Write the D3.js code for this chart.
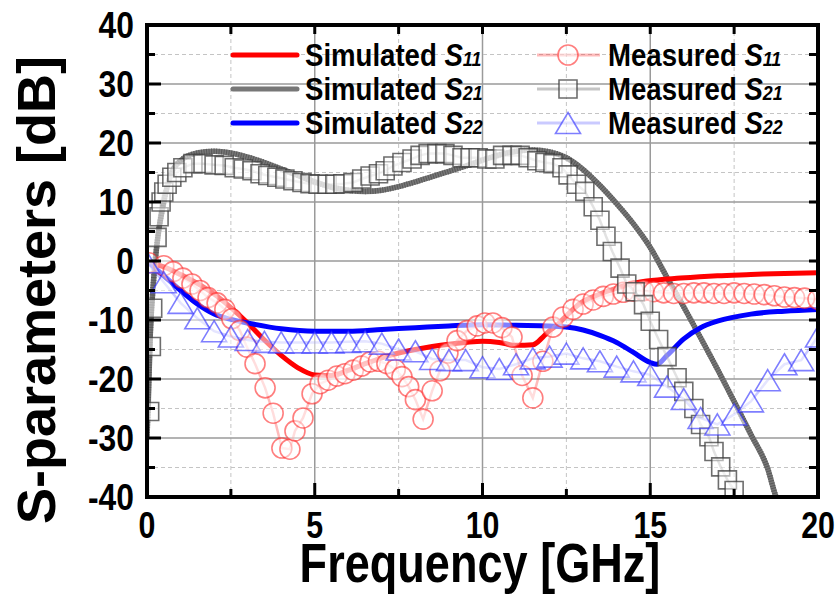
<!DOCTYPE html>
<html lang="en">
<head>
<meta charset="UTF-8" />
<script src="https://cdn.jsdelivr.net/npm/d3@7/dist/d3.min.js"></script>
<title>S-parameters</title>
<style>
  body { margin: 0; background: #fff; }
  text { font-family: "Liberation Sans", Arial, sans-serif; font-weight: bold; fill: #000; }
</style>
</head>
<body>
<script>
// ---- data ----
var simS11F = [0, 0.5, 1, 1.5, 2, 2.5, 3, 3.5, 4, 4.5, 5, 5.5, 6, 6.5, 7, 7.5, 8, 8.5, 9, 9.5, 10, 10.5, 11, 11.5, 11.8, 12, 12.2, 12.5, 12.9, 13.5, 14, 14.4, 14.9, 15.9, 17, 18, 19, 20];
var simS11 = [-0.3, -1, -2.3, -3.8, -5.6, -7.9, -10.5, -13.4, -16, -18.1, -19.3, -19.4, -18.5, -17.4, -16.4, -15.6, -15, -14.5, -14.1, -13.8, -13.6, -13.8, -14.3, -14.2, -12.9, -11.8, -11, -9.3, -7.2, -5.6, -4.6, -3.9, -3.4, -2.9, -2.5, -2.3, -2.1, -2];

var simS21F = [0, 0.1, 0.2, 0.3, 0.5, 0.7, 1, 1.5, 2, 2.5, 3, 3.5, 4, 4.5, 5, 5.5, 6, 6.5, 7, 7.5, 8, 8.5, 9, 9.5, 10, 10.5, 11, 11.5, 12, 12.5, 13, 13.5, 14, 14.5, 15, 15.5, 16, 16.5, 17, 17.5, 18, 18.5, 18.75, 19];
var simS21 = [-30, -12, -3, 3, 10, 14.5, 17, 18.3, 18.6, 18.3, 17.6, 16.7, 15.6, 14.5, 13.4, 12.5, 12, 11.8, 12, 12.6, 13.4, 14.3, 15.2, 16.1, 17.1, 18, 18.6, 18.8, 18.5, 17.5, 15.5, 12.8, 9.7, 6.3, 2.3, -2.8, -7.8, -13, -18.3, -23.8, -29.4, -35.2, -40, -43];

var simS22F = [0, 0.5, 1, 1.5, 2, 2.5, 3, 4, 5, 6, 7, 8, 9, 10, 11, 12, 12.5, 13, 13.5, 14, 14.5, 15, 15.2, 15.5, 16, 16.5, 17, 18, 19, 20];
var simS22 = [0, -2.5, -5, -7.3, -9, -9.9, -10.5, -11.5, -11.9, -11.9, -11.6, -11.3, -11, -10.8, -10.9, -11, -11.2, -11.7, -12.6, -13.8, -15.5, -17.2, -17.5, -16, -13.2, -11.3, -10.2, -9, -8.5, -8.2];

var measS11F = [0.05, 0.5, 0.78, 1.07, 1.34, 1.58, 1.82, 2.09, 2.32, 2.53, 2.77, 2.98, 3.22, 3.52, 3.76, 4.02, 4.26, 4.41, 4.65, 4.92, 5.16, 5.4, 5.66, 5.9, 6.15, 6.4, 6.65, 6.9, 7.15, 7.4, 7.6, 7.8, 8, 8.23, 8.5, 8.73, 8.97, 9.24, 9.54, 9.84, 10.07, 10.31, 10.58, 10.88, 11.18, 11.5, 11.8, 12.1, 12.4, 12.7, 13, 13.3, 13.6, 13.9, 14.2, 14.5, 14.8, 15.1, 15.4, 15.7, 16, 16.3, 16.6, 16.9, 17.2, 17.5, 17.8, 18.1, 18.4, 18.7, 19, 19.3, 19.6, 20];
var measS11 = [-0.3, -0.8, -1.8, -2.9, -3.9, -5, -6.2, -7.1, -8.2, -9.8, -11.8, -14.6, -17.4, -21.5, -25.8, -31.7, -31.9, -28.8, -26.6, -22.5, -20.8, -20.2, -19.5, -19.1, -18.5, -17.8, -17.1, -17, -17.4, -18.4, -19.6, -21.3, -23.5, -26.8, -22, -18.6, -15.6, -13.5, -11.8, -11, -10.5, -10.5, -11.3, -12.9, -19.4, -23.2, -17, -11.2, -9.5, -8.2, -7.3, -6.6, -6, -5.6, -5.3, -5.1, -5, -5.2, -5.4, -5.5, -5.5, -5.4, -5.4, -5.5, -5.5, -5.4, -5.5, -5.6, -5.7, -5.9, -6.1, -6.2, -6.3, -6.5];

var measS21F = [0.08, 0.13, 0.17, 0.3, 0.36, 0.42, 0.5, 0.6, 0.74, 0.89, 1.07, 1.37, 1.67, 2, 2.3, 2.6, 2.87, 3.13, 3.37, 3.6, 3.87, 4.11, 4.35, 4.62, 4.86, 5.1, 5.37, 5.6, 5.84, 6.14, 6.4, 6.65, 6.9, 7.1, 7.33, 7.6, 7.9, 8.14, 8.38, 8.64, 8.88, 9.12, 9.39, 9.63, 9.87, 10.13, 10.37, 10.6, 10.88, 11.12, 11.36, 11.62, 11.86, 12.1, 12.37, 12.55, 12.8, 13.05, 13.3, 13.5, 13.68, 13.87, 14.1, 14.3, 14.55, 14.8, 15, 15.25, 15.5, 15.8, 16, 16.3, 16.5, 16.75, 16.9, 17.1, 17.3, 17.5];
var measS21 = [-25.5, -14.5, -8, 4, 7.5, 10, 11.7, 13, 14.2, 15, 15.8, 16.5, 16.5, 16.3, 16.2, 15.8, 15.6, 15.3, 14.8, 14.5, 14.2, 13.9, 13.6, 13.3, 13.1, 13, 13, 13, 13.1, 13.3, 13.9, 14.4, 14.8, 15.3, 16.1, 16.7, 17.3, 17.9, 18.2, 18.2, 18.2, 17.9, 17.5, 17.5, 17.5, 17.3, 17.3, 17.9, 17.9, 17.9, 17.5, 17, 16.7, 16.5, 15.8, 14.6, 13, 11.8, 9.2, 6.9, 4.2, 1.6, -1.2, -3.9, -5.2, -7.4, -10.2, -13.3, -16.2, -19.8, -22.1, -25, -27.7, -29.8, -32.3, -34.9, -37.1, -38.9];

var measS22F = [0, 0.5, 1, 1.5, 2, 2.5, 3, 3.5, 4, 4.5, 5, 5.5, 6, 6.5, 7, 7.5, 8, 8.5, 9, 9.5, 10, 10.5, 11, 11.5, 12, 12.5, 13, 13.5, 14, 14.5, 15, 15.5, 16, 16.5, 17, 17.5, 18, 18.5, 19, 19.5, 20];
var measS22 = [-0.2, -3.6, -7.1, -9.7, -11.9, -12.8, -13.4, -13.7, -13.8, -13.8, -13.8, -13.8, -13.7, -13.6, -14, -15, -15.3, -16.6, -16.8, -16.8, -18, -18.3, -17.5, -16.5, -16.2, -15.7, -16.5, -17, -17.9, -18.7, -19.3, -21.3, -23.4, -26.6, -27.7, -26, -23.8, -20.2, -17.5, -16.8, -12.8];

var xTicks = [0, 5, 10, 15, 20];
var yTicks = [-40, -30, -20, -10, 0, 10, 20, 30, 40];
var legendNames = ["Simulated", "Simulated", "Simulated", "Measured", "Measured", "Measured"];
var legendSubs = ["11", "21", "22", "11", "21", "22"];

// ---- layout ----
var w = 838, h = 595;
var x0 = 147, x1 = 818, y0 = 497, y1 = 25;
var sx = 0.82; // glyphs in the picture are squeezed horizontally

var xScale = d3.scaleLinear().domain([0, 20]).range([x0, x1]);
var yScale = d3.scaleLinear().domain([-40, 40]).range([y0, y1]);

var svg = d3.select("body").append("svg").attr("width", w).attr("height", h);

svg.append("clipPath").attr("id", "plot")
  .append("rect").attr("x", x0).attr("y", y1).attr("width", x1 - x0).attr("height", y0 - y1);

// grid
var grid = svg.append("g");
d3.range(2.5, 20, 2.5).forEach(function (v) {
  var major = v % 5 === 0;
  grid.append("line")
    .attr("x1", xScale(v)).attr("x2", xScale(v)).attr("y1", y1).attr("y2", y0)
    .attr("stroke", major ? "#9a9a9a" : "#c4c4c4")
    .attr("stroke-width", major ? 1.5 : 1)
    .attr("stroke-dasharray", major ? null : "4,3");
});
d3.range(-35, 40, 5).forEach(function (v) {
  var major = v % 10 === 0;
  grid.append("line")
    .attr("x1", x0).attr("x2", x1).attr("y1", yScale(v)).attr("y2", yScale(v))
    .attr("stroke", major ? "#9a9a9a" : "#c4c4c4")
    .attr("stroke-width", major ? 1.5 : 1)
    .attr("stroke-dasharray", major ? null : "4,3");
});

function pts(f, v) {
  return f.map(function (d, i) { return [d, v[i]]; });
}

var smooth = d3.line()
  .x(function (d) { return xScale(d[0]); })
  .y(function (d) { return yScale(d[1]); })
  .curve(d3.curveMonotoneX);
var straight = d3.line()
  .x(function (d) { return xScale(d[0]); })
  .y(function (d) { return yScale(d[1]); });

var plot = svg.append("g").attr("clip-path", "url(#plot)");

// simulated curves
plot.append("path").attr("d", smooth(pts(simS21F, simS21)))
  .attr("fill", "none").attr("stroke", "#777").attr("stroke-width", 5.5);
plot.append("path").attr("d", smooth(pts(simS21F, simS21)))
  .attr("fill", "none").attr("stroke", "#5a5a5a").attr("stroke-width", 5.5)
  .attr("stroke-dasharray", "1,1.5");
plot.append("path").attr("d", smooth(pts(simS11F, simS11)))
  .attr("fill", "none").attr("stroke", "#ff0000").attr("stroke-width", 5);
plot.append("path").attr("d", smooth(pts(simS22F, simS22)))
  .attr("fill", "none").attr("stroke", "#0000ff").attr("stroke-width", 5);

// marker shapes
function circlePath(r) {
  return function (cx, cy) {
    return "M" + (cx - r) + "," + cy + "a" + r + "," + r + " 0 1,0 " + 2 * r + ",0a" + r + "," + r + " 0 1,0 " + -2 * r + ",0Z";
  };
}
function squarePath(s) {
  return function (cx, cy) {
    return "M" + (cx - s / 2) + "," + (cy - s / 2) + "h" + s + "v" + s + "h" + -s + "Z";
  };
}
function trianglePath(tw, th) {
  return function (cx, cy) {
    return "M" + cx + "," + (cy - th / 2) + "L" + (cx + tw / 2) + "," + (cy + th / 2) + "L" + (cx - tw / 2) + "," + (cy + th / 2) + "Z";
  };
}

var measured = [
  { f: measS11F, v: measS11, line: "rgba(255,60,60,0.35)", stroke: "rgba(255,40,40,0.6)", shape: circlePath(10) },
  { f: measS21F, v: measS21, line: "rgba(90,90,90,0.35)", stroke: "rgba(60,60,60,0.75)", shape: squarePath(18) },
  { f: measS22F, v: measS22, line: "rgba(80,80,255,0.3)", stroke: "rgba(40,40,255,0.6)", shape: trianglePath(25, 21) }
];

measured.forEach(function (s) {
  var data = pts(s.f, s.v);
  plot.append("path").attr("d", straight(data))
    .attr("fill", "none").attr("stroke", s.line).attr("stroke-width", 2.5);
  plot.selectAll(null).data(data).enter().append("path")
    .attr("d", function (d) { return s.shape(xScale(d[0]), yScale(d[1])); })
    .attr("fill", "rgba(255,255,255,0.5)")
    .attr("stroke", s.stroke).attr("stroke-width", 1.6);
});

// ticks
var ticks = svg.append("g").attr("stroke", "#000").attr("stroke-width", 3);
d3.range(0, 20.01, 2.5).forEach(function (v) {
  var major = v % 5 === 0, x = xScale(v);
  ticks.append("line").attr("x1", x).attr("x2", x).attr("y1", y0).attr("y2", y0 - (major ? 14 : 8));
  ticks.append("line").attr("x1", x).attr("x2", x).attr("y1", y1).attr("y2", y1 + 9);
});
d3.range(-40, 40.01, 5).forEach(function (v) {
  var major = v % 10 === 0, y = yScale(v);
  ticks.append("line").attr("x1", x0).attr("x2", x0 + (major ? 14 : 8)).attr("y1", y).attr("y2", y);
  ticks.append("line").attr("x1", x1).attr("x2", x1 - 9).attr("y1", y).attr("y2", y);
});

// frame
svg.append("rect").attr("x", x0).attr("y", y1).attr("width", x1 - x0).attr("height", y0 - y1)
  .attr("fill", "none").attr("stroke", "#000").attr("stroke-width", 4);

// tick labels
xTicks.forEach(function (v) {
  svg.append("text")
    .attr("transform", "translate(" + xScale(v) + "," + 538 + ") scale(" + sx + ",1)")
    .attr("text-anchor", "middle").attr("font-size", 37).text(v);
});
yTicks.forEach(function (v) {
  svg.append("text")
    .attr("transform", "translate(" + 134 + "," + (yScale(v) + 13) + ") scale(0.86,1)")
    .attr("text-anchor", "end").attr("font-size", 37).text(v);
});

// axis titles
svg.append("text")
  .attr("transform", "translate(" + 480 + "," + 582 + ") scale(" + sx + ",1)")
  .attr("text-anchor", "middle").attr("font-size", 55).text("Frequency [GHz]");
svg.append("text")
  .attr("transform", "translate(" + 55 + "," + 290 + ") rotate(-90)")
  .attr("text-anchor", "middle").attr("font-size", 54).text("S-parameters [dB]");

// legend
var rowY = [55, 89, 123];
var simColors = ["#ff0000", "#777", "#0000ff"];
var leg = svg.append("g");
legendNames.forEach(function (name, i) {
  var row = i % 3, y = rowY[row];
  var isSim = i < 3;
  var lx1 = isSim ? 233 : 537, lx2 = isSim ? 297 : 600, tx = isSim ? 305 : 608;
  if (isSim) {
    leg.append("line").attr("x1", lx1).attr("x2", lx2).attr("y1", y).attr("y2", y)
      .attr("stroke", simColors[row]).attr("stroke-width", 5).attr("stroke-linecap", "round");
  } else {
    var s = measured[row];
    leg.append("line").attr("x1", lx1).attr("x2", lx2).attr("y1", y).attr("y2", y)
      .attr("stroke", s.line).attr("stroke-width", 3);
    leg.append("path").attr("d", s.shape(568, y))
      .attr("fill", "rgba(255,255,255,0.5)").attr("stroke", s.stroke).attr("stroke-width", 1.6);
  }
  var t = leg.append("text")
    .attr("transform", "translate(" + tx + "," + (y + 11) + ") scale(0.89,1)")
    .attr("font-size", 31);
  t.append("tspan").text(name + " ");
  t.append("tspan").attr("font-style", "italic").text("S");
  t.append("tspan").attr("font-style", "italic").attr("font-size", 20).text(legendSubs[i]);
});
</script>
</body>
</html>
